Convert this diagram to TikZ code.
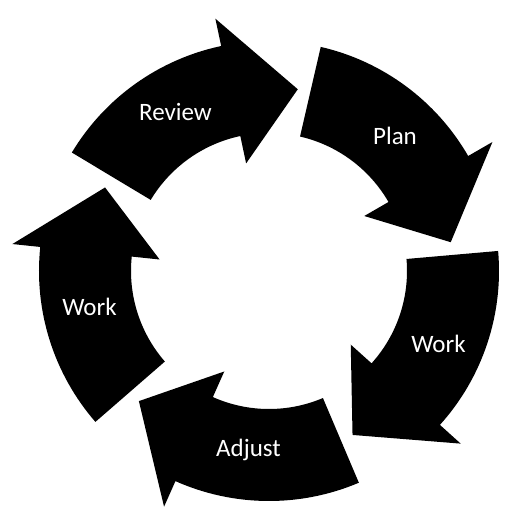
\documentclass[tikz,border=0pt]{standalone}
\usepackage{fontspec}
\setmainfont{Carlito}

\begin{document}
\begin{tikzpicture}[
    x=1pt, y=1pt,
    cyclearrow/.style={fill=black},
    lbl/.style={text=white, anchor=base, inner sep=0pt, font=\fontsize{25}{30}\selectfont}
  ]
  \useasboundingbox (-269,-251) rectangle (251,271);
  % five block arrows round the ring
  \foreach \i in {0,...,4} {
    \pgfmathsetmacro{\tail}{149-72*\i}
    \pgfmathsetmacro{\hbase}{102-72*\i}
    \pgfmathsetmacro{\tip}{81-72*\i}
    \fill[cyclearrow] (\tail:230) arc[start angle=\tail, end angle=\hbase, radius=230]
      -- (\hbase:258) -- (\tip:184) -- (\hbase:110) -- (\hbase:138)
      arc[start angle=\hbase, end angle=\tail, radius=138] -- cycle;
  }
  \node[lbl] (review) at (-93.5,150) {Review};
  \node[lbl] (plan) at (126,126) {Plan};
  \node[lbl] (workr) at (169.5,-81) {Work};
  \node[lbl] (adjust) at (-20.5,-185) {Adjust};
  \node[lbl] (workl) at (-179.5,-44) {Work};
\end{tikzpicture}
\end{document}
